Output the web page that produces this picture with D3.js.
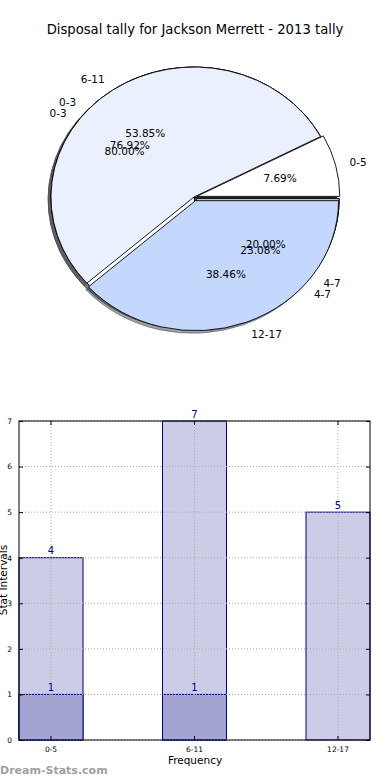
<!DOCTYPE html>
<html>
<head>
<meta charset="utf-8">
<script src="https://cdn.jsdelivr.net/npm/d3@7"></script>
<style>
  html, body { margin: 0; padding: 0; background: #fff; }
  text { font-family: "DejaVu Sans", sans-serif; }
</style>
</head>
<body>
<script>
// ---------- data ----------
const chartTitle = "Disposal tally for Jackson Merrett - 2013 tally";

const pieLabelsA = ["0-3", "4-7"];
const pieValuesA = [4, 1];
const pieLabelsB = ["0-3", "4-7"];
const pieValuesB = [10, 3];
const pieLabelsMain = ["0-5", "6-11", "12-17"];
const pieValuesMain = [1, 7, 5];

const barCategories = ["0-5", "6-11", "12-17"];
const barSeriesLight = [4, 7, 5];
const barSeriesDark = [1, 1, null];
const yTicks = [0, 1, 2, 3, 4, 5, 6, 7];

// ---------- styles ----------
const pieColors = ["#ffffff", "#eaf0fe", "#c4d8fe"];
const lightBar = "#cccce6", darkBar = "#a4a4d2", barEdge = "#000080";

const W = 390, H = 780;
const svg = d3.select("body").append("svg").attr("width", W).attr("height", H);

svg.append("text").attr("x", 195).attr("y", 34).attr("text-anchor", "middle")
  .attr("font-size", 13.2).attr("fill", "#000").text(chartTitle);

// ---------- pies ----------
const cx = 194, cy = 197, rx = 143, ry = 130;
const pies = [
  { labels: pieLabelsA, values: pieValuesA, explode: [0, 0.02] },
  { labels: pieLabelsB, values: pieValuesB, explode: [0, 0.02] },
  { labels: pieLabelsMain, values: pieValuesMain, explode: [0.02, 0, 0.03] }
];
const pieGen = d3.pie().sort(null).startAngle(Math.PI / 2).endAngle(Math.PI / 2 - 2 * Math.PI);
const arcGen = d3.arc().innerRadius(0).outerRadius(1);

const pieData = pies.map(p => {
  const total = d3.sum(p.values);
  return pieGen(p.values).map((a, i) => {
    const mid = (a.startAngle + a.endAngle) / 2;
    const ex = p.explode[i] || 0;
    const ox = cx + ex * rx * Math.sin(mid), oy = cy - ex * ry * Math.cos(mid);
    return { a, mid, ox, oy, color: pieColors[i % pieColors.length], label: p.labels[i],
             pct: (100 * p.values[i] / total).toFixed(2) + "%" };
  });
});

const shadowLayer = svg.append("g");
const wedgeLayer = svg.append("g");
const textLayer = svg.append("g");

function darken(c) {
  const r = d3.rgb(c);
  return d3.rgb(r.r * 0.3, r.g * 0.3, r.b * 0.3).toString();
}

pieData.forEach(ws => {
  ws.forEach(w => {
    const sc = darken(w.color);
    shadowLayer.append("path")
      .attr("transform", `translate(${w.ox - 0.02 * rx},${w.oy + 0.02 * ry}) scale(${rx},${ry})`)
      .attr("d", arcGen(w.a))
      .attr("fill", sc).attr("fill-opacity", 0.5)
      .attr("stroke", sc).attr("stroke-opacity", 0.5)
      .attr("vector-effect", "non-scaling-stroke").attr("stroke-width", 1);
  });
});
pieData.forEach(ws => {
  ws.forEach(w => {
    wedgeLayer.append("path")
      .attr("transform", `translate(${w.ox},${w.oy}) scale(${rx},${ry})`)
      .attr("d", arcGen(w.a))
      .attr("fill", w.color).attr("stroke", "#000")
      .attr("vector-effect", "non-scaling-stroke").attr("stroke-width", 0.9)
      .attr("stroke-linejoin", "round");
  });
});
pieData.forEach(ws => {
  ws.forEach(w => {
    const s = Math.sin(w.mid), c = Math.cos(w.mid);
    textLayer.append("text")
      .attr("x", w.ox + 1.1 * rx * s).attr("y", w.oy - 1.1 * ry * c)
      .attr("text-anchor", s > 0 ? "start" : "end")
      .attr("dominant-baseline", "central")
      .attr("font-size", 10.5).text(w.label);
    textLayer.append("text")
      .attr("x", w.ox + 0.6 * rx * s).attr("y", w.oy - 0.6 * ry * c)
      .attr("text-anchor", "middle")
      .attr("dominant-baseline", "central")
      .attr("font-size", 10.5).text(w.pct);
  });
});

// ---------- bar chart ----------
const L = 19, R = 370, T = 421, B = 740;
const x = d3.scaleBand().domain(barCategories).range([L, R]).paddingInner(0.554).paddingOuter(0);
const y = d3.scaleLinear().domain([0, 7]).range([B, T]);
const g = svg.append("g");

function drawBars(series, fill) {
  barCategories.forEach((cat, i) => {
    const v = series[i];
    if (v == null) return;
    g.append("rect").attr("x", x(cat)).attr("y", y(v))
      .attr("width", x.bandwidth()).attr("height", y(0) - y(v))
      .attr("fill", fill).attr("stroke", barEdge).attr("stroke-width", 1);
  });
}
drawBars(barSeriesLight, lightBar);
drawBars(barSeriesDark, darkBar);

// grid
yTicks.forEach(t => {
  g.append("line").attr("x1", L).attr("x2", R).attr("y1", y(t)).attr("y2", y(t))
    .attr("stroke", "#aaa").attr("stroke-width", 1).attr("stroke-dasharray", "1,2");
});
barCategories.forEach(cat => {
  const cxb = x(cat) + x.bandwidth() / 2;
  g.append("line").attr("x1", cxb).attr("x2", cxb).attr("y1", T).attr("y2", B)
    .attr("stroke", "#aaa").attr("stroke-width", 1).attr("stroke-dasharray", "1,2");
});

// value labels
function drawLabels(series) {
  barCategories.forEach((cat, i) => {
    const v = series[i];
    if (v == null) return;
    g.append("text").attr("x", x(cat) + x.bandwidth() / 2).attr("y", y(v) - 7)
      .attr("text-anchor", "middle").attr("dominant-baseline", "central")
      .attr("font-size", 10).attr("fill", barEdge).text(v);
  });
}
drawLabels(barSeriesLight);
drawLabels(barSeriesDark);

// frame
g.append("rect").attr("x", L).attr("y", T).attr("width", R - L).attr("height", B - T)
  .attr("fill", "none").attr("stroke", "#000").attr("stroke-width", 1);

// axes with inward ticks
const yAxisL = d3.axisLeft(y).tickValues(yTicks).tickFormat(d3.format("d"))
  .tickSizeInner(-4).tickSizeOuter(0).tickPadding(7);
const yAxisR = d3.axisRight(y).tickValues(yTicks).tickSizeInner(-4).tickSizeOuter(0).tickFormat("");
const xAxisB = d3.axisBottom(x).tickSizeInner(-4).tickSizeOuter(0).tickPadding(7);
const xAxisT = d3.axisTop(x).tickSizeInner(-4).tickSizeOuter(0).tickFormat("");

svg.append("g").attr("transform", `translate(${L},0)`).call(yAxisL);
svg.append("g").attr("transform", `translate(${R},0)`).call(yAxisR);
svg.append("g").attr("transform", `translate(0,${B})`).call(xAxisB);
svg.append("g").attr("transform", `translate(0,${T})`).call(xAxisT);
svg.selectAll(".domain").remove();
svg.selectAll(".tick text").attr("font-size", 7.5).attr("font-family", "DejaVu Sans").attr("fill", "#000");
svg.selectAll(".tick line").attr("stroke", "#000");

svg.append("text").attr("x", 195).attr("y", 764).attr("text-anchor", "middle")
  .attr("font-size", 10.5).text("Frequency");
svg.append("text").attr("transform", "translate(3,580) rotate(-90)").attr("text-anchor", "middle")
  .attr("dominant-baseline", "central")
  .attr("font-size", 10.5).text("Stat Intervals");

svg.append("text").attr("x", 0).attr("y", 774).attr("font-size", 11).attr("font-weight", "bold")
  .attr("fill", "#a0a0a0").text("Dream-Stats.com");
</script>
</body>
</html>
